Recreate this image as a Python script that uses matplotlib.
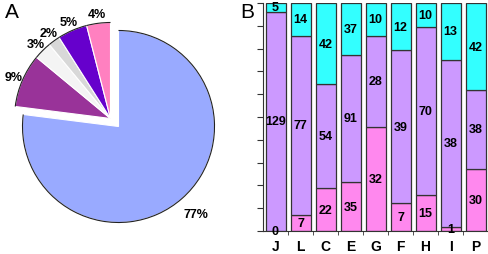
import numpy as np
import matplotlib
matplotlib.use("Agg")
import matplotlib.pyplot as plt
from matplotlib.patches import Arc

plt.rcParams['font.family'] = ['Liberation Sans', 'DejaVu Sans']

# ---- Data ----
pie_labels = ["77%", "9%", "3%", "2%", "5%", "4%"]
pie_values = [77, 9, 3, 2, 5, 4]
pie_colors = ['#99AAFF', '#993399', '#F4F4F4', '#D8D8D8', '#6600CC', '#FF80C0']

categories = ['J', 'L', 'C', 'E', 'G', 'F', 'H', 'I', 'P']
bottom_vals = [0, 7, 22, 35, 32, 7, 15, 1, 30]
middle_vals = [129, 77, 54, 91, 28, 39, 70, 38, 38]
top_vals = [5, 14, 42, 37, 10, 12, 10, 13, 42]
bar_colors = ['#FF88EE', '#CC99FF', '#33FFFF']

W, H = 488, 255
fig = plt.figure(figsize=(W / 100, H / 100), dpi=100)

# ---- Panel A: pie ----
axA = fig.add_axes([0, 0, 240 / W, 1])
cx, cy, r = 118.5, H - 127.5, 96
dx, dy = -8, 8
wedges, _ = axA.pie(pie_values, colors=pie_colors, startangle=90, counterclock=False,
                    center=(cx, cy), radius=r,
                    wedgeprops=dict(edgecolor='white', linewidth=0.8))
for i, w in enumerate(wedges):
    c = (cx, cy) if i == 0 else (cx + dx, cy + dy)
    w.set_center(c)
    axA.add_patch(Arc(c, 2 * r, 2 * r, theta1=w.theta1, theta2=w.theta2,
                      color='#222222', linewidth=0.8))
    mid = np.deg2rad((w.theta1 + w.theta2) / 2)
    dist = 1.22 * r if i == 0 else 1.1 * r
    axA.text(c[0] + dist * np.cos(mid), c[1] + dist * np.sin(mid), pie_labels[i],
             ha='center', va='center', fontsize=9, fontweight='bold')
axA.set_xlim(0, 240)
axA.set_ylim(0, H)
axA.set_aspect('auto')
axA.axis('off')
fig.text(5 / W, 1 - 13 / H, 'A', fontsize=15, ha='left', va='center')

# ---- Panel B: stacked 100% bars ----
axB = fig.add_axes([263 / W, 23 / H, 225 / W, 228 / H])
b = np.array(bottom_vals, float)
m = np.array(middle_vals, float)
t = np.array(top_vals, float)
tot = b + m + t
fb, fm, ft = b / tot, m / tot, t / tot
x = np.arange(len(categories))
kw = dict(width=0.8, edgecolor='#333333', linewidth=0.9)
axB.bar(x, fb, color=bar_colors[0], **kw)
axB.bar(x, fm, bottom=fb, color=bar_colors[1], **kw)
axB.bar(x, ft, bottom=fb + fm, color=bar_colors[2], **kw)
for i in range(len(categories)):
    axB.text(x[i], fb[i] / 2, str(bottom_vals[i]), ha='center', va='center',
             fontsize=9, fontweight='bold')
    axB.text(x[i], fb[i] + fm[i] / 2, str(middle_vals[i]), ha='center', va='center',
             fontsize=9, fontweight='bold')
    axB.text(x[i], fb[i] + fm[i] + ft[i] / 2, str(top_vals[i]), ha='center', va='center',
             fontsize=9, fontweight='bold')
axB.set_xlim(-0.5, len(categories) - 0.5)
axB.set_ylim(0, 1)
axB.set_yticks(np.linspace(0, 1, 11))
axB.set_yticklabels([])
axB.set_xticks(x)
axB.set_xticklabels(categories, fontsize=10, fontweight='bold')
axB.set_xticks(np.arange(len(categories)) + 0.5, minor=True)
axB.tick_params(axis='x', which='major', length=0, pad=6)
axB.tick_params(axis='x', which='minor', length=3, color='#333333')
axB.tick_params(axis='y', length=4, color='#333333')
for s in ['top', 'right']:
    axB.spines[s].set_visible(False)
axB.spines['left'].set_color('#333333')
axB.spines['bottom'].set_color('#333333')
fig.text(240 / W, 1 - 13 / H, 'B', fontsize=15, ha='left', va='center')

fig.savefig('out.png', dpi=100)
